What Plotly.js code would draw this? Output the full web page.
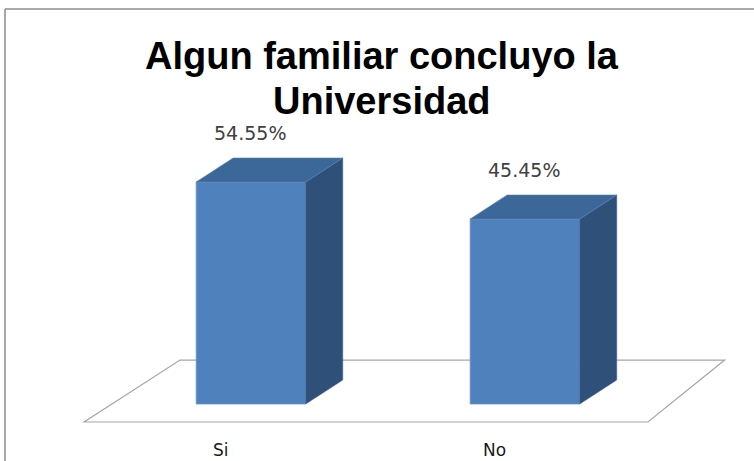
<!DOCTYPE html>
<html>
<head>
<meta charset="utf-8">
<script src="https://cdn.plot.ly/plotly-3.0.1.min.js"></script>
<style>html,body{margin:0;padding:0;background:#fff;}#chart{width:754px;height:461px;}</style>
</head>
<body>
<div id="chart"></div>
<script>
// ---- data ----
const categories = ['Si', 'No'];
const values = [54.55, 45.45];
const valueLabels = ['54.55%', '45.45%'];
const titleLines = ['Algun familiar concluyo la', 'Universidad'];

// ---- 3D styling (geometry in axis units) ----
const barWidth = 0.40;
const depthX = 0.135;
const depthY = 5.9;
const frontColor = '#4F81BD';
const topColor = '#3C6799';
const sideColor = '#2F5079';

const xs = categories.map((c, i) => i);
const traces = [];

// front faces as a real bar trace
traces.push({
  type: 'bar', x: xs, y: values, width: barWidth, base: 0,
  marker: {color: frontColor, line: {color: '#6E97CB', width: 0.8}},
  hoverinfo: 'skip', showlegend: false
});

// side and top faces from values
const sideX = [], sideY = [], topX = [], topY = [];
xs.forEach((x, i) => {
  const v = values[i];
  const l = x - barWidth / 2, r = x + barWidth / 2;
  sideX.push(r, r + depthX, r + depthX, r, r, null);
  sideY.push(0, depthY, v + depthY, v, 0, null);
  topX.push(l, l + depthX, r + depthX, r, l, null);
  topY.push(v, v + depthY, v + depthY, v, v, null);
});
traces.push({type: 'scatter', mode: 'lines', x: sideX, y: sideY, fill: 'toself',
  fillcolor: sideColor, line: {color: '#3F6593', width: 0.6}, hoverinfo: 'skip', showlegend: false});
traces.push({type: 'scatter', mode: 'lines', x: topX, y: topY, fill: 'toself',
  fillcolor: topColor, line: {color: '#5A82B4', width: 0.6}, hoverinfo: 'skip', showlegend: false});

// floor parallelogram (axis-unit geometry)
const n = categories.length;
const floorFront = -4.42, floorBack = 10.8;
const fl = -0.609, fr = (n - 1) + 0.449, shift = 0.35;
const floorPath = `M ${fl} ${floorFront} L ${fr} ${floorFront} L ${fr + shift - 0.07} ${floorBack} L ${fl + shift} ${floorBack} Z`;

const annotations = [];
// title lines
const titleYs = [1 - 56 / 461, 1 - 101 / 461];
titleLines.forEach((t, i) => {
  annotations.push({x: 0.507, y: titleYs[i], xref: 'paper', yref: 'paper', text: '<b>' + t + '</b>',
    showarrow: false, xanchor: 'center', yanchor: 'middle',
    font: {family: 'Liberation Sans, Arial, sans-serif', size: 38, color: '#000000'}});
});
xs.forEach((x, i) => {
  annotations.push({x: x, y: values[i], xref: 'x', yref: 'y', text: valueLabels[i],
    showarrow: false, yshift: 49, xshift: -1,
    font: {family: 'DejaVu Sans', size: 19, color: '#404040'}});
  annotations.push({x: x, y: -11.3, xref: 'x', yref: 'y', text: categories[i],
    showarrow: false, xshift: -30,
    font: {family: 'DejaVu Sans', size: 17, color: '#1a1a1a'}});
});

const layout = {
  width: 754, height: 461, autosize: false,
  margin: {l: 0, r: 0, t: 0, b: 0, pad: 0},
  paper_bgcolor: '#ffffff', plot_bgcolor: '#ffffff',
  showlegend: false,
  xaxis: {range: [-0.916, 1.836], visible: false, fixedrange: true},
  yaxis: {range: [-14.0, 99.26], visible: false, fixedrange: true},
  shapes: [
    {type: 'path', xref: 'x', yref: 'y', path: floorPath, layer: 'below',
      fillcolor: '#ffffff', line: {color: '#A6A6A6', width: 1.2}},
    {type: 'line', xref: 'paper', yref: 'paper', x0: 5/754, x1: 5/754, y0: 0, y1: 1 - 9/461,
      line: {color: '#8C8C8C', width: 1.5}},
    {type: 'line', xref: 'paper', yref: 'paper', x0: 5/754, x1: 1, y0: 1 - 9/461, y1: 1 - 9/461,
      line: {color: '#8C8C8C', width: 1.5}}
  ],
  annotations: annotations
};

Plotly.newPlot('chart', traces, layout, {displayModeBar: false, staticPlot: true});
</script>
</body>
</html>
